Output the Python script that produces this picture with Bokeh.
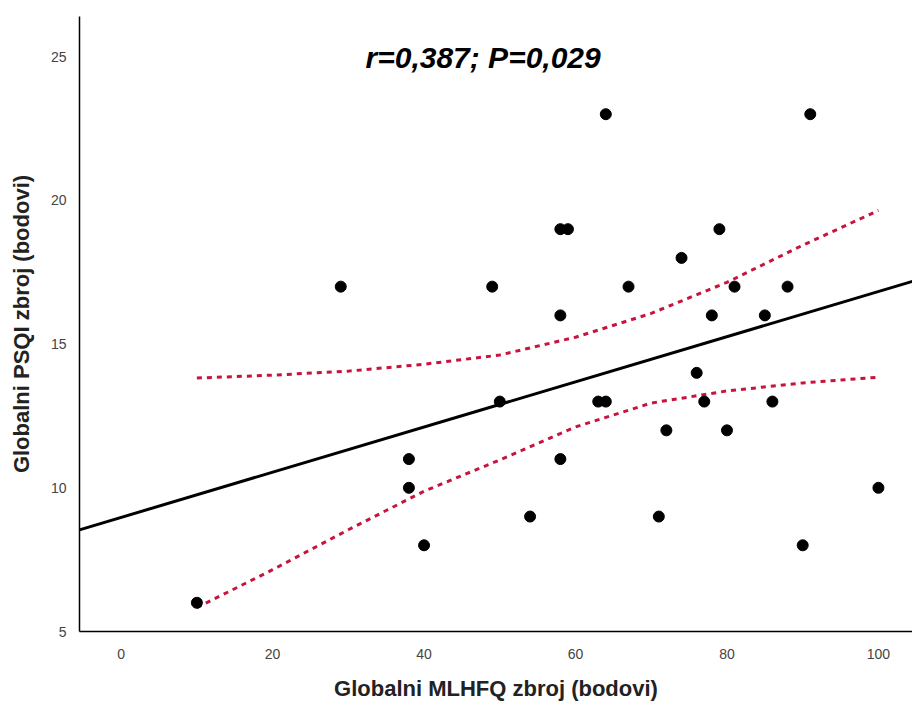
import numpy as np
from bokeh.plotting import figure
from bokeh.models import Range1d, Label, FixedTicker
from bokeh.embed import file_html
from bokeh.resources import INLINE

# Data
mlhfq = [10, 29, 38, 38, 40, 49, 50, 54, 58, 58, 58, 59, 63, 64, 64, 67,
         71, 72, 74, 76, 77, 78, 79, 80, 81, 85, 86, 88, 90, 91, 100]
psqi = [6, 17, 11, 10, 8, 17, 13, 9, 11, 16, 19, 19, 13, 13, 23, 17,
        9, 12, 18, 14, 13, 16, 19, 12, 17, 16, 13, 17, 8, 23, 10]

# fitted line as drawn in the reference
fit_intercept = 8.97
fit_slope = 0.0786

# 95% confidence band of the fit
ci_x = [10, 20, 30, 40, 50, 60, 70, 80, 90, 100]
ci_upper = [13.82, 13.92, 14.06, 14.30, 14.62, 15.24, 16.07, 17.15, 18.44, 19.65]
ci_lower = [5.83, 7.15, 8.54, 9.88, 10.97, 12.12, 12.95, 13.37, 13.65, 13.85]

x_ticks = [0, 20, 40, 60, 80, 100]
y_ticks = [5, 10, 15, 20, 25]
annotation = "r=0,387; P=0,029"
x_title = "Globalni MLHFQ zbroj (bodovi)"
y_title = "Globalni PSQI zbroj (bodovi)"

x_lo, x_hi = -5.5, 104.5
p = figure(width=912, height=703, output_backend="svg", toolbar_location=None,
           x_range=Range1d(x_lo, x_hi), y_range=Range1d(5, 26.4),
           min_border_left=79, min_border_right=0, min_border_top=16,
           min_border_bottom=71)
p.outline_line_color = None
p.grid.visible = False
p.background_fill_color = "white"

xl = np.array([x_lo, x_hi])
p.line(xl, fit_slope * xl + fit_intercept, line_color="black", line_width=3)

red = "#C8143C"
p.line(ci_x, ci_upper, line_color=red, line_width=3, line_dash="5 5")
p.line(ci_x, ci_lower, line_color=red, line_width=3, line_dash="5 5")

p.scatter(mlhfq, psqi, size=11, fill_color="black", line_color="black")

p.add_layout(Label(x=47.8, y=24.97, text=annotation, text_align="center",
                   text_baseline="middle", text_font="Liberation Sans",
                   text_font_style="bold italic", text_font_size="30px",
                   text_color="black"))

for ax in (p.xaxis[0], p.yaxis[0]):
    ax.axis_line_color = "black"
    ax.axis_line_width = 1.5
    ax.major_tick_line_color = None
    ax.minor_tick_line_color = None
    ax.major_label_text_font = "Liberation Sans"
    ax.major_label_text_font_size = "14px"
    ax.major_label_text_color = "#444444"
    ax.axis_label_text_font = "Liberation Sans"
    ax.axis_label_text_font_style = "bold"
    ax.axis_label_text_font_size = "22px"
    ax.axis_label_text_color = "#222222"

p.xaxis.ticker = FixedTicker(ticks=x_ticks)
p.yaxis.ticker = FixedTicker(ticks=y_ticks)
p.xaxis.axis_label = x_title
p.yaxis.axis_label = y_title
p.xaxis.major_label_standoff = 11
p.yaxis.major_label_standoff = 7
p.xaxis.axis_label_standoff = 14
p.yaxis.axis_label_standoff = 14

open("out.html", "w").write(file_html(p, INLINE))
